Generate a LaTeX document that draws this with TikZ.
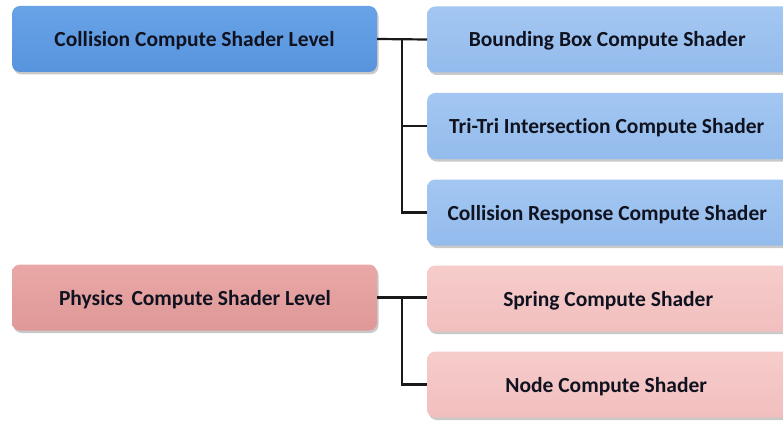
\documentclass[tikz,border=0pt]{standalone}
\usepackage{fontspec}
\setmainfont{Carlito}[Ligatures=NoCommon]
\usetikzlibrary{shadows}
\definecolor{bluedark}{HTML}{5894DD}
\definecolor{bluedarktop}{HTML}{68A3E8}
\definecolor{bluelight}{HTML}{93BBEC}
\definecolor{bluelighttop}{HTML}{A3C7F2}
\definecolor{reddark}{HTML}{DE9897}
\definecolor{reddarktop}{HTML}{E9A8A7}
\definecolor{redlight}{HTML}{F1BFBE}
\definecolor{redlighttop}{HTML}{F6CCCB}
\definecolor{textcol}{HTML}{10131F}
\tikzset{
  box/.style={rounded corners=8pt, minimum height=66pt, inner sep=0pt,
    text height=18pt, text depth=3pt,
    font=\bfseries\fontsize{21.5}{25}\selectfont, text=textcol,
    drop shadow={shadow xshift=1.5pt, shadow yshift=-2.5pt, opacity=0.35, fill=black!60}},
  levelbox/.style={box, minimum width=365pt},
  stagebox/.style={box, minimum width=370pt},
  bluehead/.style={top color=bluedarktop, bottom color=bluedark},
  bluestage/.style={top color=bluelighttop, bottom color=bluelight},
  redhead/.style={top color=reddarktop, bottom color=reddark},
  redstage/.style={top color=redlighttop, bottom color=redlight},
  link/.style={draw=black!90, line width=2.2pt}
}
\begin{document}
\begin{tikzpicture}[x=1pt,y=-1pt]
\useasboundingbox (0,0) rectangle (783,422);
\clip (0,0) rectangle (783,422);
\fill[white] (0,0) rectangle (783,422);

% collision level
\node[levelbox, bluehead] (coll) at (194.5,39) {Collision Compute Shader Level};
\node[stagebox, bluestage, anchor=west] (bbox) at (427,39.5) {\hspace*{-10pt}Bounding Box Compute Shader};
\node[stagebox, bluestage, anchor=west] (tri) at (427,126) {\hspace*{-11pt}Tri-Tri Intersection Compute Shader};
\node[stagebox, bluestage, anchor=west] (resp) at (427,212.5) {\hspace*{-10pt}Collision Response Compute Shader};

% physics level
\node[levelbox, redhead] (phys) at (194.5,297.5) {\hspace*{1pt}Physics\,\ Compute Shader Level};
\node[stagebox, redstage, anchor=west] (spring) at (427,298.5) {\hspace*{-8pt}Spring Compute Shader};
\node[stagebox, redstage, anchor=west] (nodecs) at (427,384.5) {\hspace*{-12pt}Node Compute Shader};

% tree connectors
\coordinate (cj) at (402,39.5);
\coordinate (pj) at (402,297.5);
\draw[link] (coll.east) -- (bbox.west);
\draw[link] (cj) |- (tri.west);
\draw[link] (cj) |- (resp.west);
\draw[link] (phys.east) -- (phys.east -| spring.west);
\draw[link] (pj) |- (nodecs.west);
\end{tikzpicture}
\end{document}
